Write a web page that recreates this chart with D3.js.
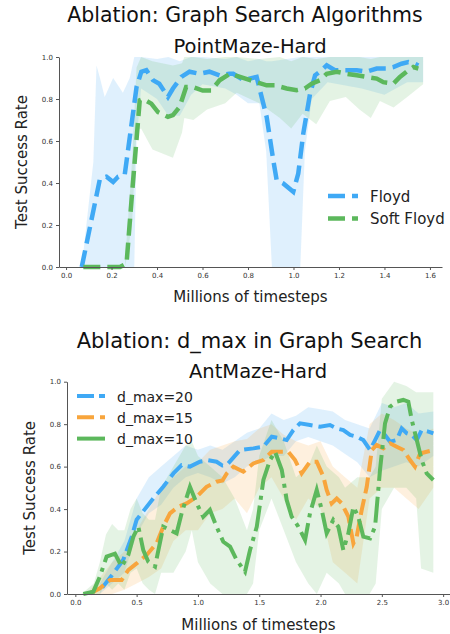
<!DOCTYPE html>
<html>
<head>
<meta charset="utf-8">
<script src="https://cdn.jsdelivr.net/npm/d3@7"></script>
<style>
body { margin: 0; background: #fff; }
text { font-family: "DejaVu Sans", sans-serif; }
</style>
</head>
<body>
<div id="chart"></div>
<script>
// ---- data: top panel (PointMaze-Hard), [t, success] ----
const floyd = [[0.069,0],[0.149,0.42],[0.178,0.43],[0.207,0.405],[0.229,0.43],[0.258,0.44],[0.31,0.857],[0.331,0.93],[0.353,0.937],[0.382,0.89],[0.41,0.873],[0.448,0.81],[0.47,0.85],[0.507,0.905],[0.543,0.93],[0.587,0.92],[0.63,0.93],[0.675,0.913],[0.718,0.92],[0.735,0.92],[0.78,0.89],[0.838,0.905],[0.853,0.84],[0.882,0.715],[0.911,0.51],[0.926,0.414],[0.955,0.398],[0.999,0.358],[1.021,0.445],[1.043,0.635],[1.073,0.826],[1.095,0.913],[1.116,0.93],[1.146,0.96],[1.182,0.937],[1.234,0.937],[1.278,0.937],[1.322,0.93],[1.366,0.945],[1.41,0.945],[1.439,0.952],[1.475,0.968],[1.505,0.976],[1.534,0.968],[1.549,0.96]]
const softFloyd = [[0.076,0],[0.237,0],[0.266,0.017],[0.288,0.32],[0.324,0.794],[0.339,0.8],[0.375,0.778],[0.404,0.738],[0.448,0.715],[0.47,0.723],[0.499,0.762],[0.528,0.857],[0.558,0.857],[0.601,0.84],[0.638,0.84],[0.675,0.889],[0.721,0.92],[0.765,0.905],[0.809,0.89],[0.838,0.88],[0.882,0.865],[0.919,0.865],[0.97,0.85],[1.014,0.842],[1.05,0.85],[1.08,0.873],[1.116,0.889],[1.146,0.92],[1.19,0.93],[1.234,0.92],[1.278,0.913],[1.322,0.905],[1.366,0.897],[1.395,0.88],[1.439,0.873],[1.468,0.905],[1.497,0.93],[1.527,0.952],[1.549,0.945]]
// bands: [t, low, high]
const floydBand = [[0.069,0,0],[0.12,0,0.5],[0.134,0,0.96],[0.149,0,0.9],[0.17,0,0.81],[0.207,0,0.9],[0.25,0,0.83],[0.28,0,0.9],[0.3,0,1.0],[0.31,0.6,1.0],[0.33,0.85,1.0],[0.4,0.8,0.99],[0.45,0.72,1.0],[0.5,0.72,0.98],[0.55,0.82,1.0],[0.6,0.87,1.0],[0.7,0.85,0.99],[0.75,0.82,1.0],[0.8,0.78,0.98],[0.85,0.78,0.99],[0.88,0.55,0.98],[0.905,0,0.98],[1.03,0,1.0],[1.05,0.55,1.0],[1.08,0.8,1.0],[1.15,0.88,1.0],[1.3,0.85,1.0],[1.4,0.82,1.0],[1.5,0.88,1.0],[1.57,0.88,1.0]]
const softFloydBand = [[0.26,0,0.03],[0.29,0.2,0.5],[0.31,0.65,0.95],[0.33,0.66,1.0],[0.38,0.56,0.98],[0.47,0.52,0.96],[0.51,0.64,0.97],[0.52,0.71,1.0],[0.56,0.7,1.0],[0.62,0.75,0.99],[0.7,0.78,1.0],[0.75,0.83,1.0],[0.85,0.78,0.99],[0.94,0.71,1.0],[0.99,0.66,0.98],[1.04,0.73,1.0],[1.1,0.68,0.99],[1.16,0.79,1.0],[1.23,0.81,1.0],[1.29,0.75,1.0],[1.34,0.71,0.99],[1.38,0.79,1.0],[1.44,0.76,1.0],[1.5,0.81,1.0],[1.57,0.87,1.0]]

// ---- data: bottom panel (AntMaze-Hard) ----
const dmax20 = [[0.22,0.03],[0.31,0.097],[0.39,0.16],[0.46,0.27],[0.5,0.35],[0.554,0.39],[0.636,0.45],[0.717,0.505],[0.8,0.568],[0.867,0.607],[0.935,0.6],[1.016,0.623],[1.084,0.63],[1.152,0.623],[1.2,0.605],[1.235,0.607],[1.343,0.678],[1.452,0.686],[1.534,0.694],[1.602,0.741],[1.67,0.733],[1.724,0.725],[1.778,0.772],[1.833,0.804],[1.914,0.796],[1.996,0.788],[2.077,0.796],[2.132,0.78],[2.186,0.772],[2.241,0.749],[2.295,0.741],[2.349,0.725],[2.404,0.678],[2.445,0.725],[2.485,0.772],[2.526,0.749],[2.567,0.717],[2.621,0.725],[2.662,0.78],[2.703,0.757],[2.744,0.749],[2.785,0.725],[2.825,0.772],[2.88,0.765],[2.92,0.757]]
const dmax15 = [[0.12,0.003],[0.2,0.027],[0.283,0.066],[0.378,0.066],[0.432,0.113],[0.5,0.144],[0.582,0.184],[0.663,0.239],[0.717,0.317],[0.772,0.38],[0.84,0.411],[0.908,0.427],[0.99,0.458],[1.07,0.505],[1.152,0.529],[1.2,0.535],[1.235,0.568],[1.289,0.6],[1.37,0.576],[1.452,0.615],[1.534,0.631],[1.602,0.67],[1.67,0.67],[1.737,0.67],[1.792,0.631],[1.846,0.568],[1.914,0.623],[1.969,0.623],[2.023,0.553],[2.05,0.49],[2.091,0.427],[2.132,0.45],[2.173,0.427],[2.227,0.364],[2.268,0.239],[2.295,0.27],[2.336,0.396],[2.377,0.505],[2.418,0.678],[2.458,0.702],[2.512,0.686],[2.567,0.71],[2.621,0.694],[2.676,0.678],[2.73,0.631],[2.77,0.6],[2.812,0.662],[2.866,0.67],[2.92,0.678]]
const dmax10 = [[0.065,0],[0.147,0.011],[0.2,0.082],[0.255,0.176],[0.323,0.19],[0.378,0.129],[0.432,0.184],[0.473,0.27],[0.514,0.317],[0.554,0.207],[0.595,0.152],[0.65,0.129],[0.717,0.317],[0.772,0.301],[0.826,0.286],[0.867,0.38],[0.935,0.505],[0.99,0.427],[1.043,0.364],[1.098,0.396],[1.152,0.317],[1.207,0.246],[1.262,0.223],[1.316,0.16],[1.384,0.105],[1.425,0.207],[1.48,0.317],[1.534,0.537],[1.588,0.631],[1.629,0.67],[1.684,0.584],[1.724,0.443],[1.765,0.364],[1.819,0.317],[1.874,0.254],[1.914,0.38],[1.969,0.49],[2.01,0.396],[2.05,0.286],[2.104,0.349],[2.145,0.317],[2.186,0.207],[2.227,0.286],[2.268,0.411],[2.308,0.364],[2.349,0.27],[2.404,0.262],[2.445,0.317],[2.485,0.584],[2.526,0.804],[2.567,0.882],[2.621,0.906],[2.675,0.914],[2.716,0.906],[2.744,0.82],[2.785,0.725],[2.825,0.631],[2.866,0.568],[2.92,0.537]]
const dmax20Band = [[0.2,0,0.05],[0.3,0.05,0.15],[0.4,0.1,0.25],[0.5,0.28,0.45],[0.6,0.38,0.55],[0.7,0.42,0.6],[0.8,0.5,0.65],[0.9,0.55,0.7],[1.0,0.57,0.68],[1.1,0.55,0.7],[1.2,0.52,0.68],[1.3,0.55,0.72],[1.4,0.6,0.76],[1.5,0.62,0.78],[1.6,0.65,0.85],[1.7,0.65,0.82],[1.8,0.72,0.84],[1.9,0.74,0.88],[2.0,0.72,0.87],[2.1,0.7,0.86],[2.2,0.66,0.82],[2.3,0.62,0.8],[2.4,0.55,0.78],[2.5,0.58,0.9],[2.6,0.6,0.88],[2.7,0.62,0.9],[2.8,0.6,0.85],[2.92,0.65,0.86]]
const dmax15Band = [[0.12,0,0.02],[0.3,0,0.15],[0.4,0.02,0.2],[0.5,0.05,0.3],[0.6,0.08,0.4],[0.7,0.12,0.5],[0.8,0.25,0.55],[0.9,0.3,0.6],[1.0,0.3,0.62],[1.1,0.38,0.68],[1.2,0.4,0.7],[1.3,0.45,0.72],[1.4,0.38,0.73],[1.5,0.5,0.78],[1.6,0.55,0.8],[1.7,0.45,0.75],[1.8,0.35,0.72],[1.9,0.45,0.7],[2.0,0.4,0.72],[2.1,0.15,0.6],[2.2,0.1,0.55],[2.3,0.05,0.5],[2.4,0.45,0.8],[2.5,0.5,0.85],[2.6,0.5,0.82],[2.7,0.45,0.78],[2.8,0.4,0.75],[2.92,0.5,0.78]]
const dmax10Band = [[0.05,0,0],[0.15,0,0.05],[0.2,0,0.15],[0.25,0.05,0.28],[0.3,0.02,0.33],[0.35,0.05,0.3],[0.4,0.02,0.3],[0.45,0.1,0.4],[0.5,0.12,0.45],[0.55,0.05,0.38],[0.6,0.02,0.35],[0.65,0,0.35],[0.7,0.1,0.5],[0.8,0.1,0.6],[0.9,0.2,0.7],[0.95,0.3,0.72],[1.0,0.15,0.65],[1.1,0.05,0.6],[1.2,0,0.55],[1.3,0,0.45],[1.4,0,0.3],[1.45,0.05,0.4],[1.5,0.3,0.65],[1.6,0.45,0.82],[1.7,0.3,0.72],[1.8,0.15,0.55],[1.9,0.05,0.6],[1.97,0,0.7],[2.05,0.1,0.6],[2.15,0.05,0.55],[2.2,0,0.5],[2.3,0,0.55],[2.4,0,0.55],[2.45,0.05,0.6],[2.5,0.4,0.92],[2.6,0.5,1.0],[2.7,0.5,0.98],[2.78,0.45,0.95],[2.82,0.12,0.95],[2.92,0.1,0.95]]

// ticks
const topXTicks = [0, 0.2, 0.4, 0.6, 0.8, 1.0, 1.2, 1.4, 1.6]
const botXTicks = [0, 0.5, 1.0, 1.5, 2.0, 2.5, 3.0]
const yTicks = [0, 0.2, 0.4, 0.6, 0.8, 1.0]

const BLUE = "#3fa9f5", GREEN = "#5cb85c", ORANGE = "#f8a53c"

const svg = d3.select("#chart").append("svg").attr("width", 450).attr("height", 634)

function panel(opt) {
    const g = svg.append("g").attr("transform", "translate(" + opt.left + "," + opt.top + ")")
    const w = opt.right - opt.left, h = opt.bottom - opt.top
    const x = d3.scaleLinear().domain(opt.xDomain).range([0, w])
    const y = d3.scaleLinear().domain([0, 1]).range([h, 0])

    const area = d3.area().x(d => x(d[0])).y0(d => y(d[1])).y1(d => y(d[2]))
    const line = d3.line().x(d => x(d[0])).y(d => y(d[1]))

    opt.series.forEach(s => {
        g.append("path").datum(s.band).attr("d", area).attr("fill", s.color).attr("fill-opacity", 0.17)
    })
    opt.series.forEach(s => {
        g.append("path").datum(s.data).attr("d", line).attr("fill", "none")
            .attr("stroke", s.color).attr("stroke-width", opt.lw).attr("stroke-dasharray", s.dash)
    })

    const xa = g.append("g").attr("transform", "translate(0," + h + ")")
        .call(d3.axisBottom(x).tickValues(opt.xTicks).tickFormat(d3.format(".1f")).tickSize(3).tickSizeOuter(0).tickPadding(3))
    const ya = g.append("g").call(d3.axisLeft(y).tickValues(yTicks).tickFormat(d3.format(".1f")).tickSize(3).tickSizeOuter(0).tickPadding(3))
    ;[xa, ya].forEach(a => {
        a.select(".domain").attr("stroke", "#555").attr("stroke-width", 1)
        a.selectAll(".tick line").attr("stroke", "#555")
        a.selectAll(".tick text").attr("fill", "#333").style("font-size", "7px").style("font-family", "DejaVu Sans")
    })

    svg.append("text").attr("x", opt.titleX).attr("y", opt.titleY).attr("text-anchor", "middle")
        .style("font-size", opt.titleSize + "px").attr("fill", "#111").text(opt.title)
    svg.append("text").attr("x", opt.subX).attr("y", opt.subY).attr("text-anchor", "middle")
        .style("font-size", "19.5px").attr("fill", "#111").text(opt.sub)
    svg.append("text").attr("x", (opt.left + opt.right) / 2).attr("y", opt.xlabY).attr("text-anchor", "middle")
        .style("font-size", "15px").attr("fill", "#222").text("Millions of timesteps")
    svg.append("text").attr("transform", "translate(" + opt.ylabX + "," + (opt.top + opt.bottom) / 2 + ") rotate(-90)")
        .attr("text-anchor", "middle").style("font-size", "15px").attr("fill", "#222").text("Test Success Rate")

    const leg = svg.append("g").attr("transform", "translate(" + opt.legX + "," + opt.legY + ")")
    opt.series.forEach((s, i) => {
        const row = leg.append("g").attr("transform", "translate(0," + (i * opt.legStep) + ")")
        row.append("line").attr("x1", 0).attr("x2", opt.legLen).attr("y1", 0).attr("y2", 0)
            .attr("stroke", s.color).attr("stroke-width", opt.lw).attr("stroke-dasharray", s.legDash)
        row.append("text").attr("x", opt.legLen + 12).attr("y", 5.5).style("font-size", opt.legSize + "px")
            .attr("fill", "#222").text(s.name)
    })
}

panel({
    left: 59, right: 442, top: 57, bottom: 267, xDomain: [-0.031, 1.653], xTicks: topXTicks, lw: 4.5,
    title: "Ablation: Graph Search Algorithms", titleX: 245, titleY: 22, titleSize: 20.5,
    sub: "PointMaze-Hard", subX: 250, subY: 52.5, xlabY: 302, ylabX: 27,
    legX: 328, legY: 196, legStep: 22.5, legLen: 30, legSize: 15,
    series: [
        { name: "Floyd", data: floyd, band: floydBand, color: BLUE, dash: "17,7", legDash: "17,7" },
        { name: "Soft Floyd", data: softFloyd, band: softFloydBand, color: GREEN, dash: "17,7", legDash: "17,7" }
    ]
})

panel({
    left: 67, right: 450, top: 381.7, bottom: 594, xDomain: [-0.068, 3.056], xTicks: botXTicks, lw: 4,
    title: "Ablation: d_max in Graph Search", titleX: 249.5, titleY: 348, titleSize: 21,
    sub: "AntMaze-Hard", subX: 258, subY: 378, xlabY: 630, ylabX: 35,
    legX: 77, legY: 396, legStep: 21.3, legLen: 28, legSize: 14,
    series: [
        { name: "d_max=20", data: dmax20, band: dmax20Band, color: BLUE, dash: "16,6", legDash: "17,5" },
        { name: "d_max=15", data: dmax15, band: dmax15Band, color: ORANGE, dash: "16,6", legDash: "17,6" },
        { name: "d_max=10", data: dmax10, band: dmax10Band, color: GREEN, dash: "26,6,4,6", legDash: "none" }
    ]
})
</script>
</body>
</html>
